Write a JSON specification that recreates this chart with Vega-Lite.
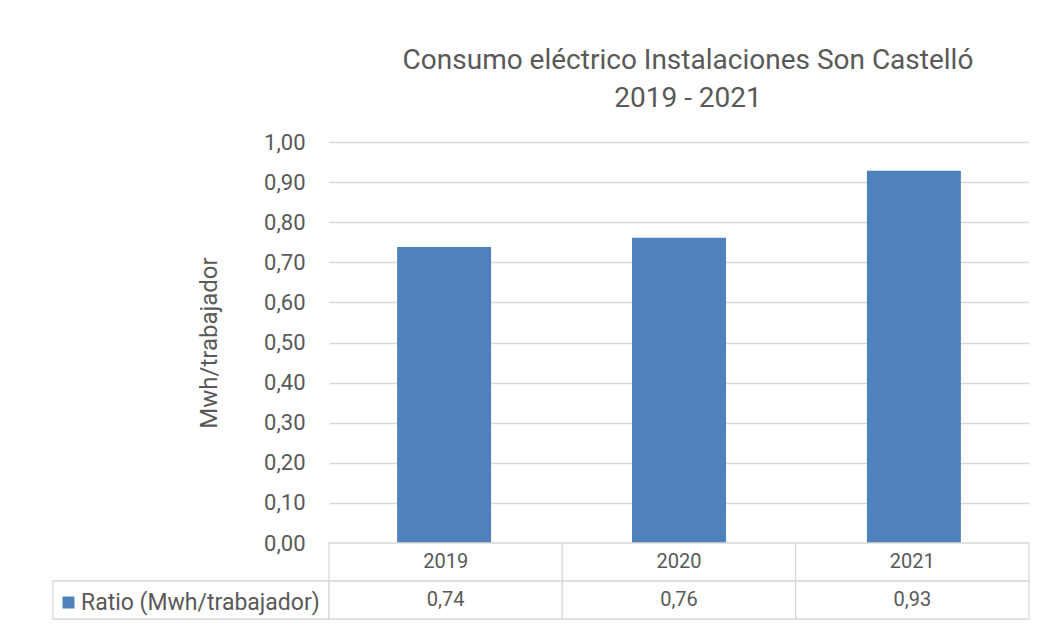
{
  "$schema": "https://vega.github.io/schema/vega-lite/v6.json",
  "background": "white",
  "padding": {"left": 52, "top": 47, "right": 17, "bottom": 5},
  "columns": 2,
  "spacing": 0,
  "bounds": "flush",
  "datasets": {
    "ratio": [
      {"year": "2019", "ratio": 0.738, "serie": "Ratio (Mwh/trabajador)"},
      {"year": "2020", "ratio": 0.761, "serie": "Ratio (Mwh/trabajador)"},
      {"year": "2021", "ratio": 0.928, "serie": "Ratio (Mwh/trabajador)"}
    ]
  },
  "resolve": {"scale": {"x": "independent", "y": "independent", "color": "independent"}},
  "concat": [
    {
      "width": 276,
      "height": 401,
      "data": {"values": []},
      "mark": "point"
    },
    {
      "width": 700,
      "height": 401,
      "title": {
        "text": ["Consumo eléctrico Instalaciones Son Castelló", "2019 - 2021"],
        "anchor": "middle",
        "fontSize": 28,
        "fontWeight": "normal",
        "font": "Roboto",
        "color": "#595959",
        "lineHeight": 38,
        "offset": 18,
        "dx": 9
      },
      "data": {"name": "ratio"},
      "mark": {"type": "bar", "width": {"band": 1}},
      "encoding": {
        "x": {"field": "year", "type": "nominal", "axis": null,
              "scale": {"paddingInner": 0.6, "paddingOuter": 0.29}},
        "y": {"field": "ratio", "type": "quantitative",
              "scale": {"domain": [0, 1]},
              "axis": {"values": [0, 0.1, 0.2, 0.3, 0.4, 0.5, 0.6, 0.7, 0.8, 0.9, 1.0],
                       "format": ".2f", "title": "Mwh/trabajador",
                       "titleFontSize": 24, "titleFontWeight": "normal", "titleColor": "#595959",
                       "titlePadding": 42, "titleFont": "Roboto",
                       "labelFontSize": 22, "labelColor": "#595959", "labelFont": "Roboto",
                       "labelPadding": 24, "domain": false, "ticks": false,
                       "grid": true, "gridColor": "#d9d9d9", "gridWidth": 1.3}},
        "color": {"field": "serie", "type": "nominal",
                  "scale": {"range": ["#4f81bd"]},
                  "legend": {"title": null, "orient": "none", "legendX": -272, "legendY": 449,
                             "symbolType": "square", "symbolSize": 144, "symbolStrokeWidth": 0,
                             "labelFontSize": 23, "labelColor": "#595959", "labelFont": "Roboto",
                             "labelOffset": 1, "labelLimit": 0, "padding": 0}}
      }
    },
    {
      "width": 276,
      "height": 76,
      "data": {"values": [{"k": 1}]},
      "mark": {"type": "rect", "filled": false, "stroke": "#d9d9d9", "strokeWidth": 1.3},
      "encoding": {
        "y": {"datum": "value", "type": "nominal",
              "scale": {"domain": ["header", "value"], "paddingInner": 0, "paddingOuter": 0},
              "axis": null}
      }
    },
    {
      "width": 700,
      "height": 76,
      "data": {"name": "ratio"},
      "encoding": {
        "x": {"field": "year", "type": "nominal", "axis": null,
              "scale": {"paddingInner": 0, "paddingOuter": 0}}
      },
      "layer": [
        {
          "mark": {"type": "rect", "fill": "white", "stroke": "#d9d9d9", "strokeWidth": 1.3},
          "encoding": {
            "y": {"datum": "header", "type": "nominal",
                  "scale": {"domain": ["header", "value"], "paddingInner": 0, "paddingOuter": 0},
                  "axis": null}
          }
        },
        {
          "mark": {"type": "rect", "fill": "white", "stroke": "#d9d9d9", "strokeWidth": 1.3},
          "encoding": {
            "y": {"datum": "value", "type": "nominal"}
          }
        },
        {
          "mark": {"type": "text", "fontSize": 20, "color": "#595959", "font": "Roboto"},
          "encoding": {
            "y": {"datum": "header", "type": "nominal"},
            "text": {"field": "year", "type": "nominal"}
          }
        },
        {
          "mark": {"type": "text", "fontSize": 20, "color": "#595959", "font": "Roboto"},
          "encoding": {
            "y": {"datum": "value", "type": "nominal"},
            "text": {"field": "ratio", "type": "quantitative", "format": ".2f"}
          }
        }
      ]
    }
  ],
  "config": {
    "view": {"stroke": null},
    "locale": {"number": {"decimal": ",", "thousands": ".", "grouping": [3], "currency": ["", " €"]}}
  }
}
